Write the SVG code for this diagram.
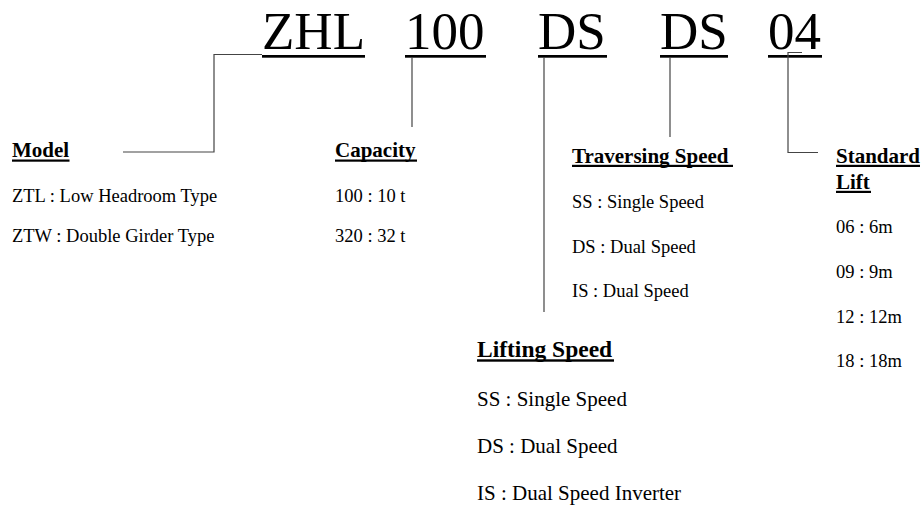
<svg xmlns="http://www.w3.org/2000/svg" width="923" height="506" viewBox="0 0 923 506">
<style>
text{font-family:"Liberation Serif","Times New Roman",serif;fill:#000}
.big{font-size:53px}
.h{font-size:21px;font-weight:bold}
.hl{font-size:23.5px;font-weight:bold}
.b{font-size:18.5px}
.bl{font-size:21px}
.u{fill:#000}
.c{fill:none;stroke:#444;stroke-width:1.2}
</style>
<rect width="923" height="506" fill="#fff"/>
<g id="code">
<text class="big" x="262" y="48.5">ZHL</text>
<text class="big" x="405" y="48.5">100</text>
<text class="big" x="538" y="48.5">DS</text>
<text class="big" x="660" y="48.5">DS</text>
<text class="big" x="768" y="48.5">04</text>
<rect class="u" x="262" y="55" width="103" height="2.7"/>
<rect class="u" x="405" y="55" width="81" height="2.7"/>
<rect class="u" x="538" y="55" width="69" height="2.7"/>
<rect class="u" x="660" y="55" width="68" height="2.7"/>
<rect class="u" x="768" y="55" width="54" height="2.7"/>
</g>
<g id="connectors">
<polyline class="c" points="123,152 214,152 214,54.5 262,54.5"/>
<line class="c" x1="412" y1="57" x2="412" y2="127"/>
<line class="c" x1="544" y1="57" x2="544" y2="312"/>
<line class="c" x1="670" y1="57" x2="670" y2="137"/>
<polyline class="c" points="802,52.5 788,52.5 788,152.5 818,152.5"/>
</g>
<g id="model">
<text class="h" x="12" y="157">Model</text>
<rect class="u" x="12" y="159.5" width="57.5" height="2.2"/>
<text class="b" x="12" y="202">ZTL : Low Headroom Type</text>
<text class="b" x="12" y="242">ZTW : Double Girder Type</text>
</g>
<g id="capacity">
<text class="h" x="335" y="157">Capacity</text>
<rect class="u" x="335" y="159.5" width="82" height="2.2"/>
<text class="b" x="335" y="202">100 : 10 t</text>
<text class="b" x="335" y="242">320 : 32 t</text>
</g>
<g id="traversing">
<text class="h" x="572" y="163">Traversing Speed</text>
<rect class="u" x="572" y="164.8" width="161" height="2.2"/>
<text class="b" x="572" y="208">SS : Single Speed</text>
<text class="b" x="572" y="253">DS : Dual Speed</text>
<text class="b" x="572" y="296.5">IS : Dual Speed</text>
</g>
<g id="lift">
<text class="h" x="836" y="163">Standard</text>
<rect class="u" x="836" y="164.8" width="84" height="2.2"/>
<text class="h" x="836" y="189">Lift</text>
<rect class="u" x="836" y="190.8" width="35" height="2.2"/>
<text class="b" x="836" y="233">06 : 6m</text>
<text class="b" x="836" y="278">09 : 9m</text>
<text class="b" x="836" y="322.5">12 : 12m</text>
<text class="b" x="836" y="366.5">18 : 18m</text>
</g>
<g id="lifting">
<text class="hl" x="477" y="356.5">Lifting Speed</text>
<rect class="u" x="477" y="359.3" width="137" height="2.4"/>
<text class="bl" x="477" y="406">SS : Single Speed</text>
<text class="bl" x="477" y="452.5">DS : Dual Speed</text>
<text class="bl" x="477" y="500">IS : Dual Speed Inverter</text>
</g>
</svg>
